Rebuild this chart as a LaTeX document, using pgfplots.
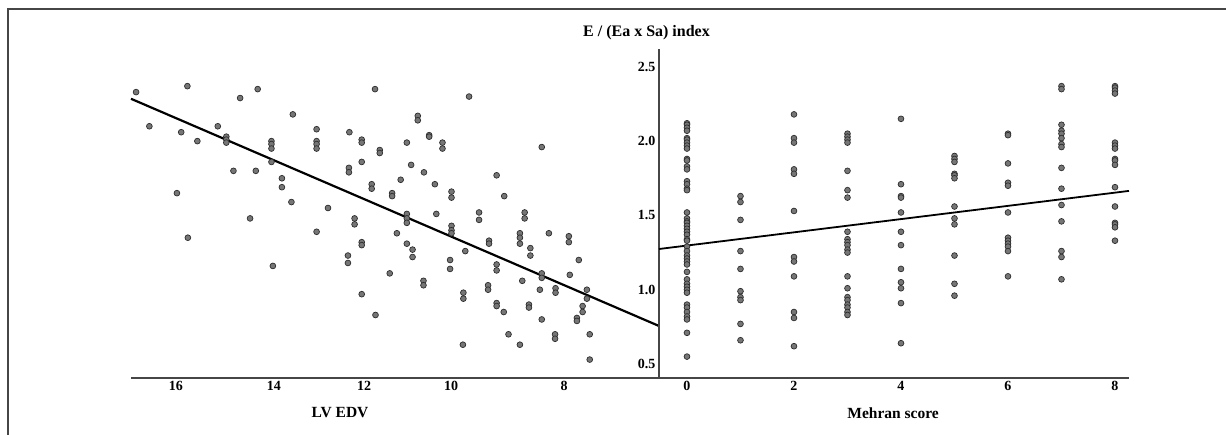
\documentclass[border=0pt]{standalone}
\usepackage{fontspec}
\setmainfont{Liberation Serif}
\usepackage{pgfplots}
\pgfplotsset{compat=1.18}
\usepackage{pgfplotstable}
\definecolor{dotfill}{RGB}{118,118,118}
\definecolor{dotedge}{RGB}{45,45,45}
\definecolor{axgray}{RGB}{70,70,70}

% LV EDV vs index
\pgfplotstableread{
v y
16.84 2.33
15.76 2.37
14.28 2.35
14.65 2.29
16.56 2.10
15.89 2.06
15.55 2.00
15.12 2.10
14.94 2.03
14.94 2.01
14.94 1.99
13.54 2.18
13.99 2.00
13.99 1.98
13.99 1.95
13.99 1.86
13.04 2.08
13.04 2.00
13.04 1.98
13.04 1.95
12.35 2.06
12.09 2.01
12.09 1.99
12.09 1.86
12.36 1.82
12.36 1.79
14.79 1.80
14.32 1.80
13.77 1.75
13.77 1.69
15.98 1.65
13.57 1.59
12.80 1.55
14.44 1.48
12.24 1.48
12.24 1.44
15.75 1.35
13.04 1.39
12.09 1.32
12.09 1.30
12.38 1.23
12.38 1.18
13.96 1.16
12.09 0.97
11.81 2.35
11.71 1.94
11.71 1.92
11.88 1.71
11.88 1.68
11.80 0.83
11.14 1.99
10.91 2.17
10.91 2.14
10.67 2.04
10.67 2.03
10.39 1.99
10.39 1.95
11.05 1.84
10.78 1.79
11.27 1.74
11.45 1.65
11.45 1.63
10.55 1.71
10.20 1.66
10.20 1.62
11.14 1.51
11.14 1.48
11.14 1.45
10.52 1.51
11.35 1.38
11.14 1.31
11.02 1.27
11.02 1.22
11.50 1.11
10.79 1.06
10.79 1.03
10.20 1.43
10.20 1.40
10.20 1.38
10.23 1.20
10.23 1.14
9.91 1.26
9.95 0.98
9.95 0.94
9.96 0.63
9.83 2.30
9.25 1.77
9.09 1.63
9.62 1.52
9.62 1.47
9.41 1.33
9.41 1.31
9.25 1.17
9.25 1.13
9.43 1.03
9.43 1.00
9.25 0.91
9.25 0.89
9.10 0.85
9.00 0.70
8.76 0.63
8.66 1.52
8.66 1.48
8.76 1.38
8.76 1.35
8.76 1.31
8.54 1.28
8.54 1.23
8.30 1.96
8.15 1.38
8.30 1.11
8.30 1.08
8.71 1.06
8.34 1.00
8.57 0.90
8.57 0.88
8.30 0.80
8.01 1.01
8.01 0.98
8.02 0.70
8.02 0.67
7.73 1.36
7.73 1.32
7.52 1.20
7.71 1.10
7.35 1.00
7.35 0.94
7.44 0.89
7.44 0.85
7.56 0.81
7.56 0.79
7.29 0.70
7.29 0.53
}\leftdata

% Mehran score vs index
\pgfplotstableread{
m y
0 2.12
0 2.11
0 2.09
0 2.07
0 2.02
0 2.01
0 1.99
0 1.97
0 1.95
0 1.88
0 1.87
0 1.83
0 1.81
0 1.73
0 1.71
0 1.68
0 1.67
0 1.52
0 1.48
0 1.46
0 1.45
0 1.43
0 1.41
0 1.39
0 1.37
0 1.34
0 1.33
0 1.29
0 1.26
0 1.23
0 1.21
0 1.19
0 1.17
0 1.12
0 1.07
0 1.04
0 1.02
0 1.00
0 0.98
0 0.90
0 0.88
0 0.85
0 0.82
0 0.80
0 0.71
0 0.55
1 1.63
1 1.59
1 1.47
1 1.26
1 1.14
1 0.99
1 0.95
1 0.93
1 0.77
1 0.66
2 2.18
2 2.02
2 1.99
2 1.81
2 1.78
2 1.53
2 1.22
2 1.19
2 1.09
2 0.85
2 0.81
2 0.62
3 2.05
3 2.03
3 2.01
3 1.99
3 1.80
3 1.67
3 1.62
3 1.39
3 1.34
3 1.32
3 1.30
3 1.27
3 1.25
3 1.09
3 1.01
3 0.95
3 0.93
3 0.90
3 0.88
3 0.85
3 0.83
4 2.15
4 1.71
4 1.63
4 1.62
4 1.52
4 1.39
4 1.30
4 1.14
4 1.05
4 1.01
4 0.91
4 0.64
5 1.90
5 1.88
5 1.86
5 1.78
5 1.77
5 1.75
5 1.56
5 1.48
5 1.44
5 1.23
5 1.04
5 0.96
6 2.05
6 2.04
6 1.85
6 1.72
6 1.70
6 1.52
6 1.35
6 1.33
6 1.31
6 1.29
6 1.26
6 1.09
7 2.37
7 2.35
7 2.11
7 2.07
7 2.05
7 2.02
7 1.98
7 1.96
7 1.82
7 1.68
7 1.57
7 1.46
7 1.26
7 1.22
7 1.07
8 2.37
8 2.36
8 2.34
8 2.32
8 1.99
8 1.97
8 1.95
8 1.88
8 1.87
8 1.84
8 1.69
8 1.56
8 1.45
8 1.44
8 1.42
8 1.33
}\rightdata

\begin{document}
\begin{tikzpicture}[x=1pt,y=1pt]
\path[use as bounding box] (0,0) rectangle (1226,435);
\draw[axgray, line width=1.4pt] (8,0) -- (8,426) -- (1226,426);
\pgfplotsset{
  common/.style={
    scale only axis, height=329pt, ymin=0.406, ymax=2.62, clip=false,
    axis line style={axgray, line width=1.8pt},
    major tick length=0pt,
    /pgf/number format/assume math mode=true,
    ticklabel style={font=\bfseries\fontsize{14}{14}\selectfont, text=black},
    label style={font=\bfseries\fontsize{15.5}{15.5}\selectfont},
  },
  dots/.style={only marks, mark=*, mark size=2.9pt,
    mark options={fill=dotfill, draw=dotedge, line width=0.7pt}},
}
\begin{axis}[common,
  at={(131pt,57pt)}, anchor=south west, width=528pt,
  xmin=5.832, xmax=16.947, x dir=reverse,
  axis x line*=bottom, axis y line=none, ytick=\empty,
  xtick={16.0,13.94,12.04,10.21,7.83},
  xticklabels={16,14,12,10,8},
  xlabel={LV EDV},
  xlabel style={at={(axis description cs:0.396,0)}, anchor=center, yshift=-35pt},
]
\addplot[dots] table[x=v,y=y]{\leftdata};
\addplot[black, line width=2.2pt] coordinates {(16.947,2.285) (5.832,0.756)};
\end{axis}
\begin{axis}[common,
  at={(659pt,57pt)}, anchor=south west, width=470pt,
  xmin=-0.523, xmax=8.262,
  axis x line*=bottom, axis y line*=left,
  xtick={0,2,4,6,8},
  ytick={0.5,1.0,1.5,2.0,2.5},
  yticklabels={0.5,1.0,1.5,2.0,2.5},
  xlabel={Mehran score},
  xlabel style={at={(axis description cs:0.498,0)}, anchor=center, yshift=-35pt},
  title={E / (Ea x Sa) index},
  title style={at={(axis description cs:0,1)}, anchor=center, xshift=-12.5pt, yshift=10pt,
    font=\bfseries\fontsize{16}{16}\selectfont},
]
\addplot[dots] table[x=m,y=y]{\rightdata};
\addplot[black, line width=1.8pt] coordinates {(-0.523,1.274) (8.262,1.665)};
\end{axis}
\end{tikzpicture}
\end{document}
